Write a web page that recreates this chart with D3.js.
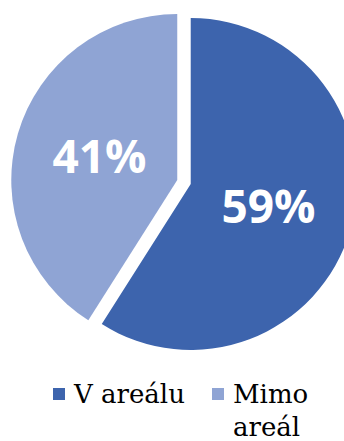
<!DOCTYPE html>
<html>
<head>
<meta charset="utf-8">
<script src="https://cdn.jsdelivr.net/npm/d3@7"></script>
<style>
  html, body { margin: 0; padding: 0; background: #fff; }
  svg { display: block; }
</style>
</head>
<body>
<div id="chart"></div>
<script>
// data
const categories = ["V areálu", "Mimo areál"];
const values = [59, 41];
const colors = ["#3D64AD", "#8FA4D4"];

const width = 344, height = 441;
const cx = 184, cy = 182, radius = 166;
const explode = 7;

const svg = d3.select("#chart").append("svg")
    .attr("width", width)
    .attr("height", height);

const data = categories.map((c, i) => ({ name: c, value: values[i], color: colors[i] }));

const pie = d3.pie().value(d => d.value).sort(null);
const arcs = pie(data);

const arc = d3.arc().innerRadius(0).outerRadius(radius);
const labelArc = d3.arc().innerRadius(0).outerRadius(162);

const g = svg.append("g").attr("transform", `translate(${cx},${cy})`);

// posun výseče podle středu úhlu
function offset(d) {
    const a = (d.startAngle + d.endAngle) / 2;
    return [Math.sin(a) * explode, -Math.cos(a) * explode];
}

const slice = g.selectAll(".slice")
    .data(arcs)
    .enter().append("g")
    .attr("class", "slice")
    .attr("transform", d => `translate(${offset(d)})`);

slice.append("path")
    .attr("d", arc)
    .style("fill", d => d.data.color);

slice.append("text")
    .attr("x", d => labelArc.centroid(d)[0])
    .attr("y", d => labelArc.centroid(d)[1] + 16)
    .attr("text-anchor", "middle")
    .style("font-family", "'Open Sans', sans-serif")
    .style("font-weight", "bold")
    .style("font-size", "46px")
    .style("fill", "#fff")
    .text(d => d.data.value + "%");

// legenda
const legend = svg.append("g");

const legendX = [53, 212];
const legendLines = [["V areálu"], ["Mimo", "areál"]];

categories.forEach((c, i) => {
    legend.append("rect")
        .attr("x", legendX[i])
        .attr("y", 388)
        .attr("width", 12)
        .attr("height", 12)
        .style("fill", colors[i]);
    const t = legend.append("text")
        .attr("x", legendX[i] + 21)
        .attr("y", 403)
        .attr("font-family", "DejaVu Serif")
        .attr("font-size", 26)
        .attr("fill", "#000");
    legendLines[i].forEach((line, j) => {
        t.append("tspan")
            .attr("x", legendX[i] + 21)
            .attr("dy", j === 0 ? 0 : 33)
            .text(line);
    });
});
</script>
</body>
</html>
